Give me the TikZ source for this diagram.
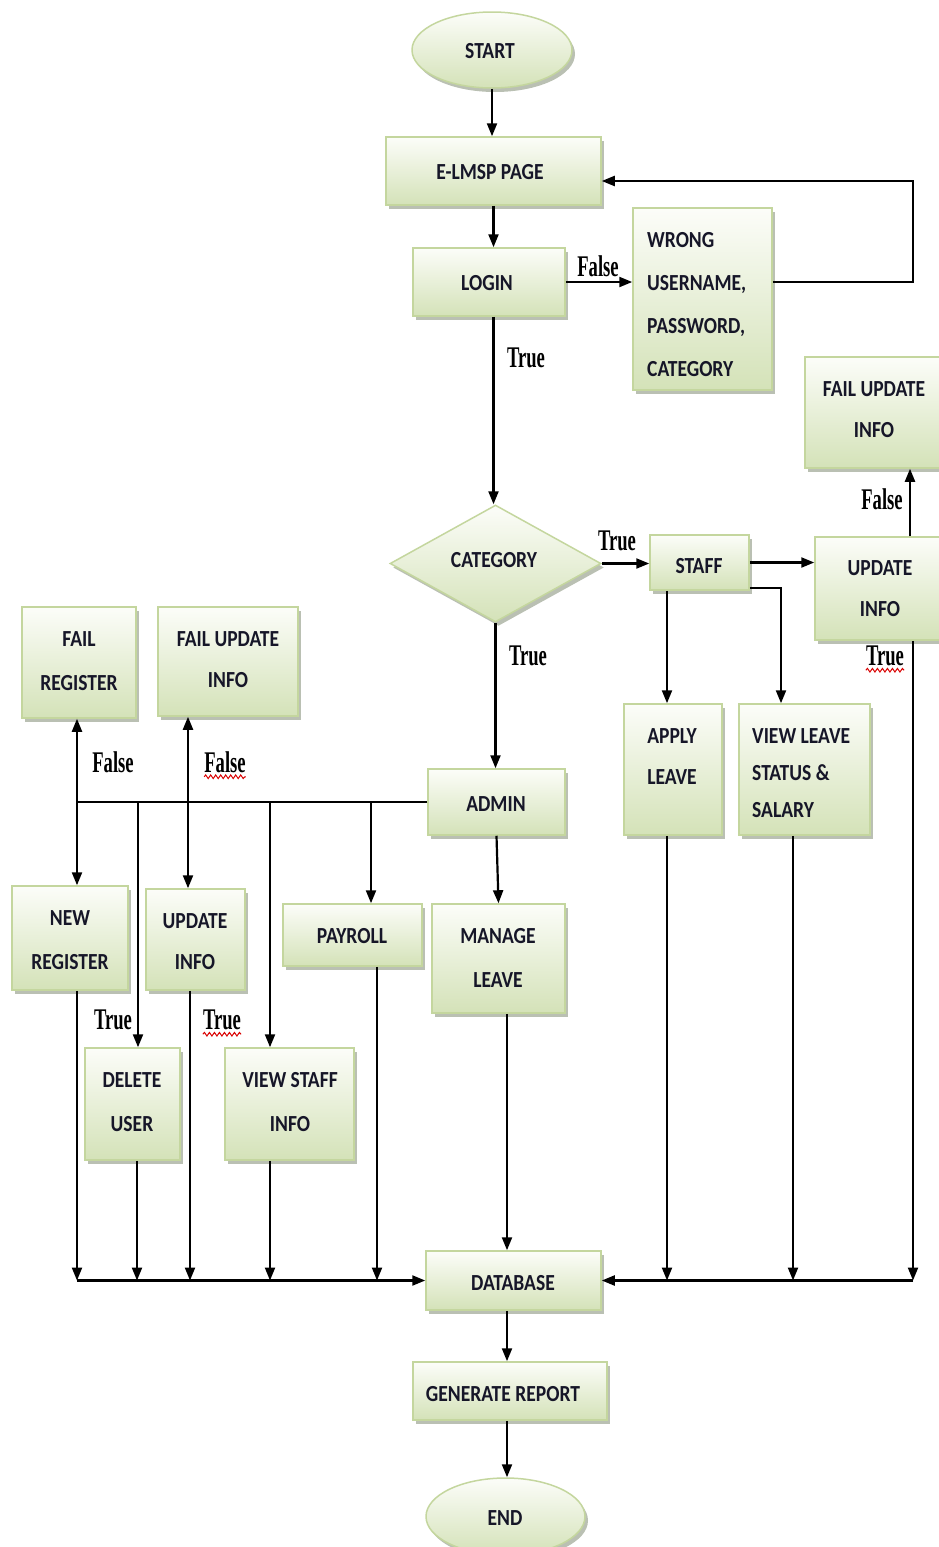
\documentclass[tikz,border=0pt]{standalone}
\usepackage{fontspec}
\newfontfamily\boxfont[FakeStretch=0.85]{Carlito}
\newfontfamily\labfont[FakeStretch=0.62]{Liberation Serif}
\usetikzlibrary{shapes.geometric,shadows,arrows.meta,calc,decorations.pathmorphing}

\definecolor{boxtop}{RGB}{252,253,249}
\definecolor{boxbot}{RGB}{212,226,184}
\definecolor{boxline}{RGB}{196,214,158}
\definecolor{ink}{RGB}{22,22,40}
\definecolor{shade}{RGB}{140,150,128}

\tikzset{
  flowbox/.style={rectangle, draw=boxline, line width=1.5pt,
    top color=boxtop, bottom color=boxbot, inner sep=0pt,
    drop shadow={shadow xshift=3pt, shadow yshift=-4pt, fill=shade, opacity=0.6}},
  termbox/.style={flowbox, ellipse},
  decbox/.style={flowbox, diamond},
  flowtext/.style={font={\boxfont\bfseries\fontsize{23}{42}\selectfont}, text=ink,
    align=center, inner sep=0pt},
  leftflowtext/.style={flowtext, align=left, anchor=west},
  edgelabel/.style={font={\labfont\bfseries\fontsize{30}{32}\selectfont}, text=black, inner sep=0pt},
  spellmark/.style={draw=red!85!black, line width=1pt,
    decorate, decoration={snake, amplitude=1.8pt, segment length=5pt}},
  arr/.style={-{Triangle[length=13pt,width=10pt]}, line width=2.2pt},
  plain/.style={line width=2.2pt}
}

\begin{document}
\begin{tikzpicture}[x=1pt, y=-1pt]
\useasboundingbox (0,0) rectangle (939,1547);
\clip (0,0) rectangle (939,1547);

% ---------- boxes ----------
\node[termbox, minimum width=160, minimum height=76] (start) at (492,50) {};
\node[flowbox, minimum width=215, minimum height=68] (elmsp) at (493.5,171) {};
\node[flowbox, minimum width=152, minimum height=68] (login) at (489,282) {};
\node[flowbox, minimum width=139, minimum height=182] (wrong) at (702.5,299) {};
\node[flowbox, minimum width=138, minimum height=111] (failupdR) at (874,412.5) {};
\node[decbox, minimum width=211, minimum height=117] (cat) at (495.5,563.5) {};
\node[flowbox, minimum width=99, minimum height=55] (staff) at (699.5,562.5) {};
\node[flowbox, minimum width=130, minimum height=103] (updR) at (880,588.5) {};
\node[flowbox, minimum width=114, minimum height=111] (failreg) at (79,662.5) {};
\node[flowbox, minimum width=140, minimum height=109] (failupdL) at (228,661.5) {};
\node[flowbox, minimum width=98, minimum height=131] (apply) at (673,769.5) {};
\node[flowbox, minimum width=131, minimum height=131] (viewleave) at (804.5,769.5) {};
\node[flowbox, minimum width=137, minimum height=66] (admin) at (496.5,802) {};
\node[flowbox, minimum width=116, minimum height=104] (newreg) at (70,938) {};
\node[flowbox, minimum width=99, minimum height=101] (updL) at (195.5,939.5) {};
\node[flowbox, minimum width=139, minimum height=62] (payroll) at (352.5,935) {};
\node[flowbox, minimum width=133, minimum height=109] (manage) at (498.5,958.5) {};
\node[flowbox, minimum width=95, minimum height=112] (deluser) at (132.5,1104) {};
\node[flowbox, minimum width=129, minimum height=112] (viewstaff) at (289.5,1104) {};
\node[flowbox, minimum width=175, minimum height=59] (db) at (513.5,1280.5) {};
\node[flowbox, minimum width=194, minimum height=58] (genrep) at (510,1391) {};
\node[termbox, minimum width=159, minimum height=77] (end) at (505.5,1516.5) {};

% ---------- box texts ----------
\node[flowtext] (startT) at (490,51) {START};
\node[flowtext] (elmspT) at (490,172) {E-LMSP PAGE};
\node[flowtext] (loginT) at (487,283) {LOGIN};
\node[leftflowtext, font={\boxfont\bfseries\fontsize{23}{43}\selectfont}] (wrongT) at (647,304.5)
  {WRONG\\USERNAME,\\PASSWORD,\\CATEGORY};
\node[flowtext, font={\boxfont\bfseries\fontsize{23}{41}\selectfont}] (failupdRT) at (874,409.5) {FAIL UPDATE\\INFO};
\node[flowtext] (catT) at (494,560) {CATEGORY};
\node[flowtext] (staffT) at (699,566) {STAFF};
\node[flowtext, font={\boxfont\bfseries\fontsize{23}{41}\selectfont}] (updRT) at (880,588.5) {UPDATE\\INFO};
\node[flowtext, font={\boxfont\bfseries\fontsize{23}{44}\selectfont}] (failregT) at (79,661) {FAIL\\REGISTER};
\node[flowtext, font={\boxfont\bfseries\fontsize{23}{41}\selectfont}] (failupdLT) at (228,659.5) {FAIL UPDATE\\INFO};
\node[flowtext, font={\boxfont\bfseries\fontsize{23}{41}\selectfont}] (applyT) at (672,756.5) {APPLY\\LEAVE};
\node[leftflowtext, font={\boxfont\bfseries\fontsize{23}{37}\selectfont}] (viewleaveT) at (752,773)
  {VIEW LEAVE\\STATUS \&\\SALARY};
\node[flowtext] (adminT) at (496,804) {ADMIN};
\node[flowtext, font={\boxfont\bfseries\fontsize{23}{44}\selectfont}] (newregT) at (70,940) {NEW\\REGISTER};
\node[flowtext, font={\boxfont\bfseries\fontsize{23}{41}\selectfont}] (updLT) at (195,941.5) {UPDATE\\INFO};
\node[flowtext] (payrollT) at (352,936) {PAYROLL};
\node[flowtext, font={\boxfont\bfseries\fontsize{23}{44}\selectfont}] (manageT) at (498,958) {MANAGE\\LEAVE};
\node[flowtext, font={\boxfont\bfseries\fontsize{23}{44}\selectfont}] (deluserT) at (132,1102) {DELETE\\USER};
\node[flowtext, font={\boxfont\bfseries\fontsize{23}{44}\selectfont}] (viewstaffT) at (290,1102) {VIEW STAFF\\INFO};
\node[flowtext] (dbT) at (513,1283) {DATABASE};
\node[flowtext] (genrepT) at (503,1394) {GENERATE REPORT};
\node[flowtext] (endT) at (505,1518) {END};

% ---------- helper columns and rows for the routed lines ----------
\coordinate (xr) at (913,0);
\coordinate (xf) at (910,0);
\coordinate (x77) at (77,0);
\coordinate (x138) at (138,0);
\coordinate (x188) at (188,0);
\coordinate (x190) at (190,0);
\coordinate (x137) at (137,0);
\coordinate (x270) at (270,0);
\coordinate (x371) at (371,0);
\coordinate (x377) at (377,0);
\coordinate (x667) at (667,0);
\coordinate (x781) at (781,0);
\coordinate (x793) at (793,0);
\coordinate (x507) at (507,0);
\coordinate (elmspIn) at ($(elmsp.east)+(0,10)$);
\coordinate (staffOut) at ($(staff.south east)+(0,-3)$);

% ---------- main spine ----------
\draw[arr] (start.south) -- (elmsp.north -| start.south);
\draw[arr] (elmsp.south) -- (login.north -| elmsp.south);
\draw[arr] (login.east) -- (login.east -| wrong.west);
\draw[arr] (wrong.east |- login.east) -- (xr |- login.east) -- (xr |- elmspIn) -- (elmspIn);
\draw[arr] (login.south -| elmsp.south) -- (cat.north -| elmsp.south);
\draw[arr] (cat.east) -- (cat.east -| staff.west);
\draw[arr] (cat.south) -- (admin.north -| cat.south);

% ---------- staff branch ----------
\draw[arr] (staff.east) -- (staff.east -| updR.west);
\draw[arr] (updR.north -| xf) -- (failupdR.south -| xf);
\draw[arr] (staff.south -| x667) -- (apply.north -| x667);
\draw[arr] (staffOut) -- (x781 |- staffOut) -- (viewleave.north -| x781);

% ---------- admin branch ----------
\draw[plain] (admin.west) -- (x77 |- admin.west);
\draw[arr] (x77 |- admin.west) -- (failreg.south -| x77);
\draw[arr] (x77 |- admin.west) -- (newreg.north -| x77);
\draw[arr] (x138 |- admin.west) -- (deluser.north -| x138);
\draw[arr] (x188 |- admin.west) -- (failupdL.south -| x188);
\draw[arr] (x188 |- admin.west) -- (updL.north -| x188);
\draw[arr] (x270 |- admin.west) -- (viewstaff.north -| x270);
\draw[arr] (x371 |- admin.west) -- (payroll.north -| x371);
\draw[arr] (admin.south) -- (manage.north);

% ---------- into the database ----------
\draw[arr] (newreg.south -| x77) -- (x77 |- db.west);
\draw[arr] (deluser.south -| x137) -- (x137 |- db.west);
\draw[arr] (updL.south -| x190) -- (x190 |- db.west);
\draw[arr] (viewstaff.south -| x270) -- (x270 |- db.west);
\draw[arr] (payroll.south -| x377) -- (x377 |- db.west);
\draw[arr] (x77 |- db.west) -- (db.west);
\draw[arr] (manage.south -| x507) -- (db.north -| x507);

\draw[arr] (apply.south -| x667) -- (x667 |- db.east);
\draw[arr] (viewleave.south -| x793) -- (x793 |- db.east);
\draw[arr] (updR.south -| xr) -- (xr |- db.east);
\draw[arr] (xr |- db.east) -- (db.east);

\draw[arr] (db.south -| x507) -- (genrep.north -| x507);
\draw[arr] (genrep.south -| x507) -- (end.north -| x507);

% ---------- edge labels ----------
\node[edgelabel] (lb1) at (598,266) {False};
\node[edgelabel] (lb2) at (526,358) {True};
\node[edgelabel] (lb3) at (617,541) {True};
\node[edgelabel] (lb4) at (882,499) {False};
\node[edgelabel] (lb5) at (885,656) {True};
\node[edgelabel] (lb6) at (528,656) {True};
\node[edgelabel] (lb7) at (113,762) {False};
\node[edgelabel] (lb8) at (225,762) {False};
\node[edgelabel] (lb9) at (113,1020) {True};
\node[edgelabel] (lb10) at (222,1020) {True};

% spell-check underlines under three of the labels
\draw[spellmark] ($(lb5.south west)+(0,4)$) -- ($(lb5.south east)+(0,4)$);
\draw[spellmark] ($(lb8.south west)+(0,4)$) -- ($(lb8.south east)+(0,4)$);
\draw[spellmark] ($(lb10.south west)+(0,4)$) -- ($(lb10.south east)+(0,4)$);
\end{tikzpicture}
\end{document}
